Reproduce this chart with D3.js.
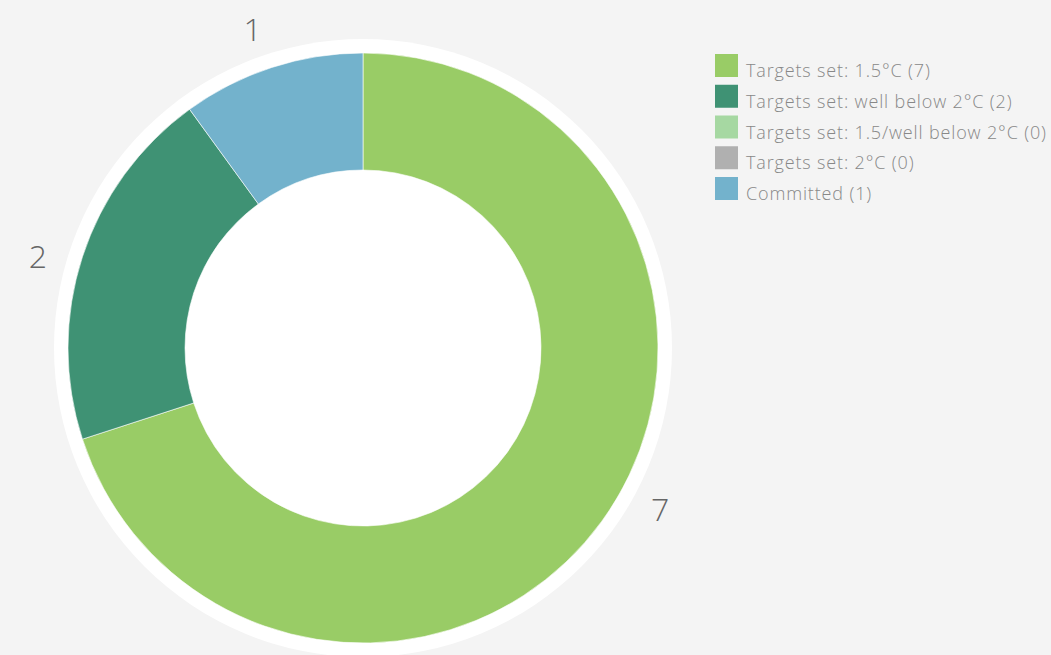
<!DOCTYPE html>
<html>
<head>
<meta charset="utf-8">
<script src="https://cdn.jsdelivr.net/npm/d3@7"></script>
<style>
  html, body { margin: 0; padding: 0; background: #f4f4f4; }
  svg { display: block; }
  text { font-family: "Open Sans", Lato, sans-serif; }
</style>
</head>
<body>
<svg id="chart" width="1051" height="655"></svg>
<script>
// Companies by target status
const categories = [
  "Targets set: 1.5°C",
  "Targets set: well below 2°C",
  "Targets set: 1.5/well below 2°C",
  "Targets set: 2°C",
  "Committed"
];
const counts = [7, 2, 0, 0, 1];
const colors = ["#99cc66", "#3f9274", "#a6d8a2", "#b0b0b0", "#73b2cc"];

const svg = d3.select("#chart");
const cx = 363, cy = 348;
const outerR = 295, innerR = 178, ringR = 309, labelR = 338;

const data = categories.map((c, i) => ({ name: c, value: counts[i], color: colors[i] }));

const g = svg.append("g").attr("transform", `translate(${cx},${cy})`);

// white backing disc
g.append("circle").attr("r", ringR).attr("fill", "#ffffff");

const pie = d3.pie().value(d => d.value).sort(null);
const arc = d3.arc().innerRadius(innerR).outerRadius(outerR);

const arcs = pie(data);
const shown = arcs.filter(d => d.data.value > 0);

g.selectAll("path.slice")
  .data(shown)
  .join("path")
  .attr("class", "slice")
  .attr("d", arc)
  .attr("fill", d => d.data.color)
  .attr("stroke", "#ffffff")
  .attr("stroke-width", 0.6);

// value labels sit outside the ring, nudged slightly back from mid-slice
function labelAngle(d) {
  const mid = (d.startAngle + d.endAngle) / 2;
  const span = d.endAngle - d.startAngle;
  return mid - span * 0.03;
}

g.selectAll("text.val")
  .data(shown)
  .join("text")
  .attr("class", "val")
  .attr("x", d => Math.sin(labelAngle(d)) * labelR)
  .attr("y", d => -Math.cos(labelAngle(d)) * labelR)
  .attr("text-anchor", "middle")
  .attr("dominant-baseline", "central")
  .attr("font-family", "Lato, sans-serif")
  .attr("font-size", 32)
  .attr("font-weight", 300)
  .attr("fill", "#666666")
  .text(d => d.data.value);

// legend
const legend = svg.append("g").attr("transform", "translate(715,54)");
const rows = legend.selectAll("g.row")
  .data(data)
  .join("g")
  .attr("class", "row")
  .attr("transform", (d, i) => `translate(0,${i * 30.75})`);

rows.append("rect")
  .attr("width", 23).attr("height", 23)
  .attr("fill", d => d.color);

rows.append("text")
  .attr("x", 31).attr("y", 23)
  .attr("font-size", 18)
  .attr("font-weight", 300)
  .attr("letter-spacing", 0.85)
  .attr("fill", "#888888")
  .text(d => `${d.name} (${d.value})`);
</script>
</body>
</html>
